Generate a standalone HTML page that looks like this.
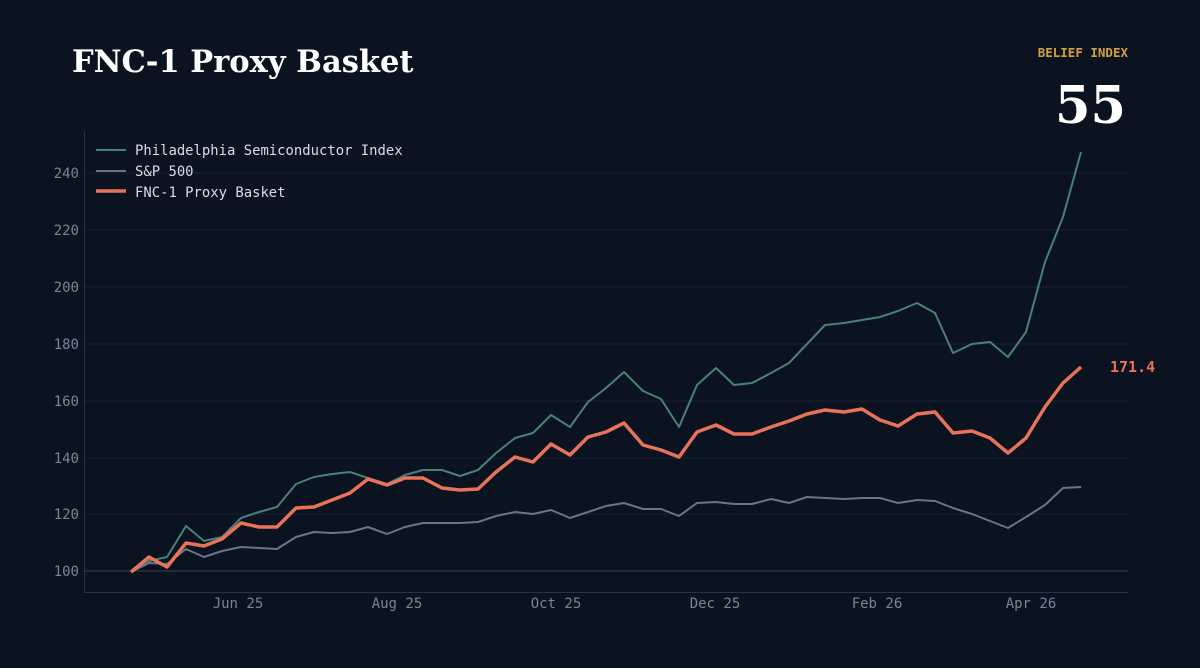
<!DOCTYPE html>
<html><head><meta charset="utf-8"><style>
html,body{margin:0;padding:0;background:#0b1220;}
svg{display:block}
</style></head><body>
<svg width="1200" height="668" viewBox="0 0 1200 668" xmlns="http://www.w3.org/2000/svg">
<rect width="1200" height="668" fill="#0b1220"/>
<text x="72" y="72" font-family="DejaVu Serif, serif" font-weight="bold" font-size="30.5" fill="#ffffff">FNC-1 Proxy Basket</text>
<text x="1128" y="57" text-anchor="end" font-family="DejaVu Sans Mono, monospace" font-weight="bold" font-size="12.5" fill="#d4a03c">BELIEF INDEX</text>
<text x="1126" y="123" text-anchor="end" font-family="DejaVu Serif, serif" font-weight="bold" font-size="51" fill="#ffffff">55</text>
<g stroke="#1a2232" stroke-width="1">
<line x1="84" y1="173" x2="1128" y2="173"/><line x1="84" y1="230" x2="1128" y2="230"/><line x1="84" y1="287" x2="1128" y2="287"/><line x1="84" y1="344" x2="1128" y2="344"/><line x1="84" y1="401" x2="1128" y2="401"/><line x1="84" y1="458" x2="1128" y2="458"/><line x1="84" y1="514" x2="1128" y2="514"/>
</g>
<line x1="84" y1="571" x2="1128" y2="571" stroke="#3a4252" stroke-width="1"/>
<line x1="84.5" y1="131" x2="84.5" y2="592" stroke="#2a3242"/>
<line x1="84" y1="592.5" x2="1128" y2="592.5" stroke="#2a3242"/>
<g font-family="DejaVu Sans Mono, monospace" font-size="14" fill="#7a8599" text-anchor="end">
<text x="79" y="178">240</text><text x="79" y="235">220</text><text x="79" y="292">200</text><text x="79" y="349">180</text><text x="79" y="406">160</text><text x="79" y="463">140</text><text x="79" y="519">120</text><text x="79" y="576">100</text>
</g>
<g font-family="DejaVu Sans Mono, monospace" font-size="14" fill="#7a8599" text-anchor="middle">
<text x="238" y="608">Jun 25</text><text x="397" y="608">Aug 25</text><text x="556" y="608">Oct 25</text><text x="715" y="608">Dec 25</text><text x="877" y="608">Feb 26</text><text x="1031" y="608">Apr 26</text>
</g>
<g fill="none" stroke-linejoin="round">
<polyline stroke="#4a7f7c" stroke-width="2" points="131,571 149,561 167,557 186,526 204,541 222,537 241,518 259,512 277,507 296,484 314,477 332,474 350,472 368,478 387,484 405,475 423,470 442,470 460,476 478,470 496,453 515,438 533,433 551,415 570,427 588,402 606,388 624,372 643,391 661,399 679,427 697,385 716,368 734,385 752,383 771,373 789,363 807,344 825,325 844,323 862,320 880,317 898,311 917,303 935,313 953,353 972,344 990,342 1008,357 1026,332 1045,262 1063,217 1081,152"/>
<polyline stroke="#6b7585" stroke-width="2" points="131,572 149,563 167,564 186,549 204,557 222,551 241,547 259,548 277,549 296,537 314,532 332,533 350,532 368,527 387,534 405,527 423,523 442,523 460,523 478,522 496,516 515,512 533,514 551,510 570,518 588,512 606,506 624,503 643,509 661,509 679,516 697,503 716,502 734,504 752,504 771,499 789,503 807,497 825,498 844,499 862,498 880,498 898,503 917,500 935,501 953,508 972,514 990,521 1008,528 1026,517 1045,505 1063,488 1081,487"/>
<polyline stroke="#e8735a" stroke-width="3.5" points="131,572 149,557 167,567 186,543 204,546 222,539 241,523 259,527 277,527 296,508 314,507 332,500 350,493 368,479 387,485 405,478 423,478 442,488 460,490 478,489 496,472 515,457 533,462 551,444 570,455 588,437 606,432 624,423 643,445 661,450 679,457 697,432 716,425 734,434 752,434 771,427 789,421 807,414 825,410 844,412 862,409 880,420 898,426 917,414 935,412 953,433 972,431 990,438 1008,453 1026,438 1045,407 1063,383 1081,367"/>
</g>
<text x="1110" y="372" font-family="DejaVu Sans Mono, monospace" font-weight="bold" font-size="15" fill="#e8735a">171.4</text>
<g font-family="DejaVu Sans Mono, monospace" font-size="13.9" fill="#d8dde6">
<line x1="96" y1="150" x2="126" y2="150" stroke="#4a7f7c" stroke-width="2"/><text x="135" y="155">Philadelphia Semiconductor Index</text>
<line x1="96" y1="171" x2="126" y2="171" stroke="#6b7585" stroke-width="2"/><text x="135" y="176">S&amp;P 500</text>
<line x1="96" y1="191" x2="126" y2="191" stroke="#e8735a" stroke-width="3.5"/><text x="135" y="197">FNC-1 Proxy Basket</text>
</g>
</svg>
</body></html>
